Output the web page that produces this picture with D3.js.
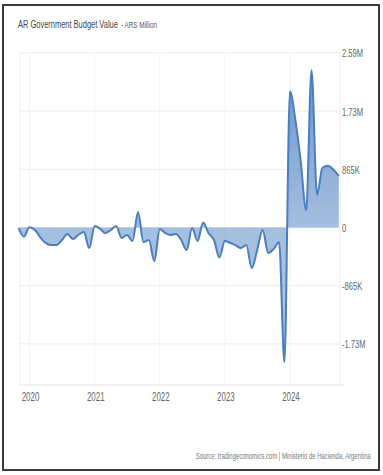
<!DOCTYPE html>
<html><head><meta charset="utf-8">
<script src="https://cdn.jsdelivr.net/npm/d3@7"></script>
<style>html,body{margin:0;padding:0;background:#fff;}svg{display:block;}</style>
</head><body>
<svg id="chart" width="383" height="475"></svg>
<script>
// ---- data (thousand ARS million) ----
const startMonth = "2019-11";
const values = [
  -10, -137, 5, -37, -142, -231, -261, -261, -186, -97, -172, -112, -67, -306,
  22, -22, -82, -37, 22, -157, -112, -201, 231, -216, -186, -500,
  -22, -82, -112, -97, -186, -336, -7, -201, 75, -82, -186, -447,
  -201, -231, -261, -306, -261, -604, -336, -37, -380, -321, -220, -2001,
  2025, 1588, 996, 261, 2338, 485, 887, 917, 858, 768
];
const yTickValues = [-1730, -865, 0, 865, 1730, 2595];
const yTickLabels = ["-1.73M", "-865K", "0", "865K", "1.73M", "2.59M"];
const xTickYears = [2020, 2021, 2022, 2023, 2024];
const titleMain = "AR Government Budget Value";
const titleSub = "- ARS Million";
const sourceText = "Source: tradingeconomics.com | Ministerio de Hacienda, Argentina";

const parse = d3.timeParse("%Y-%m");
const d0 = parse(startMonth);
const data = values.map((v, i) => ({ date: d3.timeMonth.offset(d0, i), value: v }));

const svg = d3.select("#chart");
const FONT = "'Liberation Sans', Arial, sans-serif";
const SX = 0.66;

// frame
svg.append("rect").attr("x", 3).attr("y", 5).attr("width", 376).attr("height", 465)
  .attr("fill", "#fff").attr("stroke", "#3a3a3a").attr("stroke-width", 2);

const plotL = 19, plotR = 340, plotT = 52.9, plotB = 385;

const x = d3.scaleTime()
  .domain([d0, d3.timeMonth.offset(d0, values.length - 1)])
  .range([18.6, 338.8]);
const y = d3.scaleLinear().domain([-2341, 2595]).range([plotB, plotT]);

// text squeezed horizontally to a target width via a scale transform
function fitText(sel, px, py, str, size, color, width, anchor) {
  const t = sel.append("text")
    .attr("x", 0).attr("y", 0)
    .attr("text-anchor", anchor || "start")
    .attr("font-family", FONT).attr("font-size", size)
    .attr("fill", color).text(str);
  const natural = t.node().getComputedTextLength() || width;
  t.attr("transform", `translate(${px},${py}) scale(${width / natural},1)`);
  return t;
}

// gridlines
const grid = svg.append("g");
grid.selectAll("line.h").data(yTickValues).join("line")
  .attr("x1", plotL).attr("x2", plotR)
  .attr("y1", d => y(d)).attr("y2", d => y(d))
  .attr("stroke", "#ececec").attr("stroke-width", 1);
grid.selectAll("line.v").data(xTickYears).join("line")
  .attr("x1", d => x(new Date(d, 0, 1))).attr("x2", d => x(new Date(d, 0, 1)))
  .attr("y1", plotT).attr("y2", plotB)
  .attr("stroke", "#f3f3f3").attr("stroke-width", 1);
grid.append("line").attr("x1", plotL + 1).attr("x2", plotL + 1).attr("y1", plotT).attr("y2", plotB)
  .attr("stroke", "#f0f0f0");
grid.append("line").attr("x1", plotR).attr("x2", plotR).attr("y1", plotT).attr("y2", plotB)
  .attr("stroke", "#ececec");
grid.append("line").attr("x1", plotL).attr("x2", plotR + 4).attr("y1", plotB).attr("y2", plotB)
  .attr("stroke", "#e6e6e6");

// gradient
const defs = svg.append("defs");
const grad = defs.append("linearGradient").attr("id", "ag")
  .attr("gradientUnits", "userSpaceOnUse")
  .attr("x1", 0).attr("x2", 0).attr("y1", plotT).attr("y2", plotB);
grad.append("stop").attr("offset", "0%").attr("stop-color", "#4a7ebf").attr("stop-opacity", 0.85);
grad.append("stop").attr("offset", "52%").attr("stop-color", "#4a7ebf").attr("stop-opacity", 0.5);
grad.append("stop").attr("offset", "100%").attr("stop-color", "#4a7ebf").attr("stop-opacity", 0.45);

const curve = d3.curveMonotoneX;
const area = d3.area().x(d => x(d.date)).y0(y(0)).y1(d => y(d.value)).curve(curve);
const line = d3.line().x(d => x(d.date)).y(d => y(d.value)).curve(curve);

svg.append("path").datum(data).attr("d", area).attr("fill", "url(#ag)");
svg.append("path").datum(data).attr("d", line).attr("fill", "none")
  .attr("stroke", "#4a7ebf").attr("stroke-width", 2).attr("stroke-linejoin", "round");

// y axis labels (right)
const yAxis = d3.axisRight(y).tickValues(yTickValues).tickSize(0)
  .tickFormat((d, i) => yTickLabels[i]);
const ya = svg.append("g").attr("transform", `translate(${plotR + 2},0)`).call(yAxis);
ya.select(".domain").remove();
ya.selectAll("text")
  .attr("x", 0).attr("dy", "0.35em")
  .attr("font-family", FONT).attr("font-size", 11.5).attr("fill", "#666")
  .attr("transform", `scale(${SX},1)`);

// x axis labels
const xAxis = d3.axisBottom(x).tickValues(xTickYears.map(yr => new Date(yr, 0, 1)))
  .tickSize(0).tickFormat(d3.timeFormat("%Y"));
const xa = svg.append("g").attr("transform", `translate(0,${plotB})`).call(xAxis);
xa.select(".domain").remove();
xa.selectAll(".tick text")
  .attr("y", 0).attr("dy", 0).attr("transform", `translate(0.5,16) scale(${SX},1)`)
  .attr("font-family", FONT).attr("font-size", 12).attr("fill", "#666");

// title
fitText(svg, 18, 28, titleMain, 11.5, "#444", 100);
fitText(svg, 121, 28, titleSub, 8.5, "#555", 36);

// source
fitText(svg, 370.5, 459, sourceText, 9, "#777", 175, "end");
</script>
</body></html>
